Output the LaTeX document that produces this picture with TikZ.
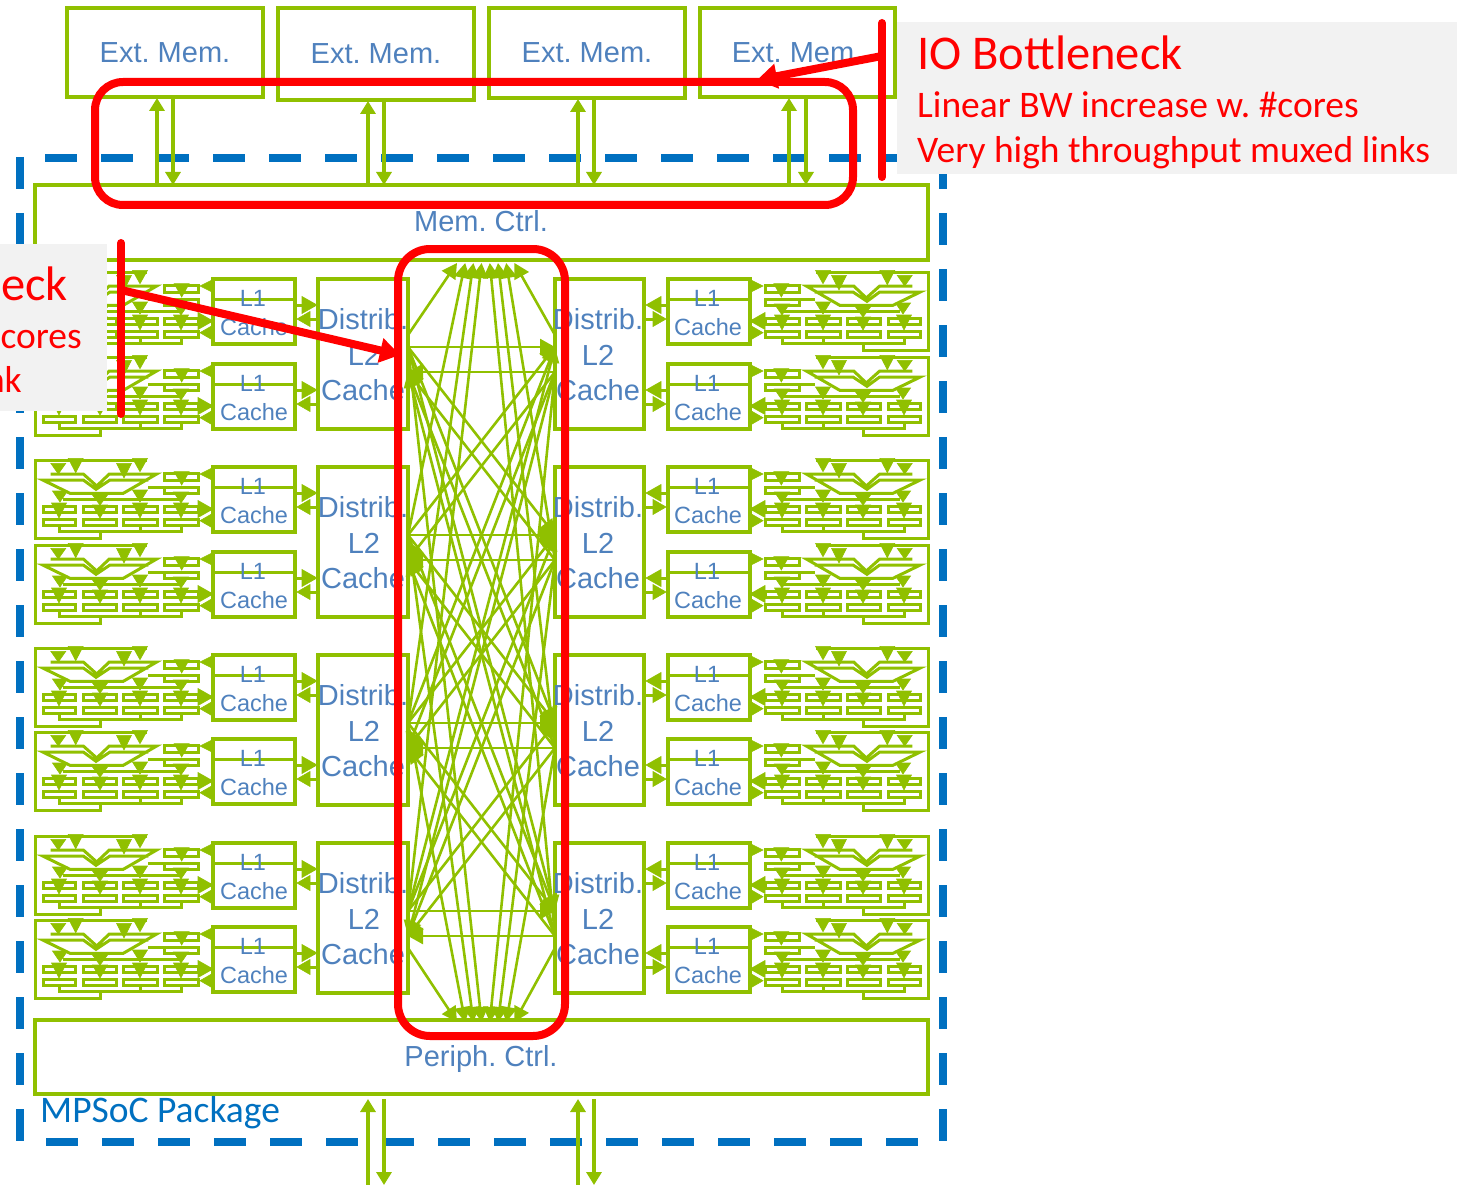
\documentclass[tikz,border=0pt]{standalone}
\usepackage{fontspec}
\setmainfont{Liberation Sans}
\newfontfamily\calib{Carlito}
\usetikzlibrary{arrows.meta}
\definecolor{grn}{HTML}{90C000}
\definecolor{txtb}{HTML}{4F81BD}
\definecolor{pkgb}{HTML}{0070C0}
\definecolor{gbox}{HTML}{F2F2F2}
\tikzset{
  x=1pt,y=-1pt,
  boxn/.style={draw=grn,line width=4pt,fill=none,inner sep=0pt,outer sep=0pt},
  wire/.style={draw=grn,line width=3pt},
  reg/.style={draw=grn,line width=3pt,fill=white},
  tri/.style={fill=grn,draw=grn,line width=.6pt},
  link/.style={draw=grn,line width=2.6pt,-{Triangle[length=15pt,width=16pt]}},
  bus/.style={draw=grn,line width=3.4pt,-{Triangle[length=13pt,width=15pt]}},
  redl/.style={draw=red,line width=8pt,line cap=round},
  pkgl/.style={draw=pkgb,line width=8pt,dash pattern=on 32pt off 24pt},
  lbl/.style={text=txtb,inner sep=0pt,anchor=base},
  big/.style={font=\fontsize{29}{29}\selectfont},
  small/.style={font=\fontsize{23.5}{24}\selectfont},
  calt/.style={text=red,inner sep=0pt,anchor=base west,font=\calib\fontsize{37.5}{38}\selectfont},
  calr/.style={text=red,inner sep=0pt,anchor=base east,font=\calib\fontsize{37.5}{38}\selectfont},
}
\newcommand{\tdn}[4]{\fill[tri] (#1-#4,#2) -- (#1+#4,#2) -- (#1,#3) -- cycle;}
\newcommand{\thz}[4]{\fill[tri] (#1,#3-#4) -- (#1,#3+#4) -- (#2,#3) -- cycle;}
\newcommand{\boxat}[5]{\node[boxn,minimum width={(#4-#2)*1pt},minimum height={(#5-#3)*1pt}] (#1) at ({(#2+#4)/2},{(#3+#5)/2}) {};}
\newcommand{\coretile}{%
  \draw[wire] (112,0) -- (0,0) -- (0,78) -- (65,78) -- (65,71);
  \draw[wire] (24,65) -- (24,71) -- (146,71) -- (146,65);
  \draw[wire] (105,65) -- (105,71);
  \draw[wire] (28,39) -- (145,39);
  \draw[wire] (113,27) -- (129,27);
  \foreach \xa/\xb in {8/40,48/81,88/122,129/163}{
    \draw[reg] (\xa,46) rectangle (\xb,52.5);
    \draw[reg] (\xa,59) rectangle (\xb,65.5);
  }
  \draw[reg] (129,13.5) rectangle (163,20);
  \draw[reg] (129,27.5) rectangle (163,33.5);
  \draw[wire,line join=miter] (15.7,14) -- (48.3,14) -- (61.7,26) -- (74.3,14) -- (121.7,14) -- (88.3,33.3) -- (35,33.3) -- (7.7,20) -- (48.3,20) -- (61,29.3) -- (75,20) -- (113.3,20);
  \tdn{23.3}{3.3}{14}{7.5}
  \tdn{40.7}{-1.7}{12.7}{7.5}
  \tdn{89}{3.3}{18}{7.5}
  \tdn{105}{-1.7}{11.7}{7.5}
  \tdn{146.7}{11.7}{25}{7.5}
  \tdn{25}{31}{42}{7.5}
  \tdn{24}{43}{58}{7.5}
  \tdn{65}{35}{45}{7.5}
  \tdn{65}{45}{58}{7.5}
  \tdn{105}{30}{42}{7.5}
  \tdn{105}{43}{58}{7.5}
  \tdn{146}{32}{43}{7.5}
  \tdn{146}{43}{58}{7.5}
  \thz{178}{165}{14}{6.5}
  \thz{163}{178}{49}{8.5}
  \thz{178}{165}{60.7}{7.5}
  \draw[boxn] (178,7) rectangle (260,72);
  \draw[wire] (178,27) -- (260,27);
  \draw[wire] (260,33) -- (270,33);
  \draw[wire] (270,47) -- (283,47);
  \thz{267}{282}{33}{8.5}
  \thz{275}{262}{47}{7.5}
}
\begin{document}
\frenchspacing
\begin{tikzpicture}
\useasboundingbox (0,0) rectangle (1459,1185);
% package outline
\draw[pkgl] (45,158) -- (897,158);
\draw[pkgl] (46,1141.5) -- (920,1141.5);
\draw[pkgl] (20,157) -- (20,1143);
\draw[pkgl] (942.5,157) -- (942.5,1143);
% external memories and controllers
\boxat{Ext1}{67}{8}{263}{97}
\boxat{Ext2}{278}{8}{474}{100}
\boxat{Ext3}{489}{8}{685}{98}
\boxat{Ext4}{700}{8}{895}{97}
\boxat{Mem}{35}{185}{928}{260}
\boxat{Per}{35}{1020}{928}{1094}
\node[lbl,big] (e1t) at (165,63) {Ext. Mem.};
\node[lbl,big] (e2t) at (376,64) {Ext. Mem.};
\node[lbl,big] (e3t) at (587,63) {Ext. Mem.};
\node[lbl,big] (e4t) at (797,63) {Ext. Mem.};
\node[lbl,big] (mt) at (481,232) {Mem. Ctrl.};
\node[lbl,big] (pt) at (481,1066) {Periph. Ctrl.};
\node[text=pkgb,inner sep=0pt,anchor=base west,font=\calib\fontsize{37.5}{38}\selectfont] (pkgt) at (40,1122) {MPSoC Package};
\foreach \n/\xu/\xd/\yt in {1/157/173/98,2/368/384/101,3/578/594/99,4/789/806/98}{
  \coordinate (mu\n) at (\xu,\yt);
  \coordinate (md\n) at (\xd,\yt);
  \draw[bus] (mu\n |- Mem.north) -- (mu\n);
  \draw[bus] (md\n) -- (md\n |- Mem.north);
}
\foreach \n/\xu/\xd in {1/368/384,2/578/594}{
  \coordinate (pu\n) at (\xu,1099);
  \coordinate (pd\n) at (\xd,1099);
  \coordinate (pe\n) at (\xu,1185);
  \draw[bus] (pe\n) -- (pu\n);
  \draw[bus] (pd\n) -- (pd\n |- pe\n);
}
% core tiles
\foreach \yy in {272,357,460,545,648,732,836,920}{
  \begin{scope}[shift={(35,\yy)}]\coretile\end{scope}
  \begin{scope}[shift={(928,\yy)},xscale=-1]\coretile\end{scope}
  \pgfmathsetmacro{\ya}{\yy+34}
  \pgfmathsetmacro{\yb}{\yy+63}
  \node[lbl,small] at (253,\ya) {L1};
  \node[lbl,small] at (254,\yb) {Cache};
  \node[lbl,small] at (707,\ya) {L1};
  \node[lbl,small] at (708,\yb) {Cache};
}
% L2 slices
\foreach \i/\yt in {0/279,1/467,2/655,3/843}{
  \pgfmathsetmacro{\ybt}{\yt+150}
  \boxat{LL\i}{318}{\yt}{408}{\ybt}
  \boxat{RL\i}{555}{\yt}{644}{\ybt}
  \pgfmathsetmacro{\ya}{\yt+50}
  \pgfmathsetmacro{\yb}{\yt+86}
  \pgfmathsetmacro{\yc}{\yt+121}
  \node[lbl,big] at (363,\ya) {Distrib.};
  \node[lbl,big] at (364,\yb) {L2};
  \node[lbl,big] at (363,\yc) {Cache};
  \node[lbl,big] at (598,\ya) {Distrib.};
  \node[lbl,big] at (598,\yb) {L2};
  \node[lbl,big] at (598,\yc) {Cache};
  \pgfmathsetmacro{\yo}{347+188*\i}
  \pgfmathsetmacro{\yn}{372+188*\i}
  \coordinate (LO\i) at (408,\yo);
  \coordinate (LI\i) at (408,\yn);
  \coordinate (RI\i) at (555,\yo);
  \coordinate (RO\i) at (555,\yn);
}
% fabric end points
\foreach \k in {0,...,7}{
  \pgfmathsetmacro{\xk}{457+8.2*\k}
  \coordinate (TT\k) at (\xk,263);
  \coordinate (BT\k) at (\xk,1022);
}
\coordinate (LOT) at (408,335);
\coordinate (ROT) at (555,335);
\coordinate (LOB) at (408,948);
\coordinate (ROB) at (555,948);
% fabric
\foreach \i in {0,1,2,3}{
  \foreach \j in {0,1,2,3}{
    \draw[link] (LO\i) -- (RI\j);
    \draw[link] (RO\i) -- (LI\j);
  }
}
\draw[link] (LOT) -- (TT0);
\draw[link] (LO1) -- (TT1);
\draw[link] (LO2) -- (TT2);
\draw[link] (LO3) -- (TT3);
\draw[link] (RO3) -- (TT4);
\draw[link] (RO2) -- (TT5);
\draw[link] (RO1) -- (TT6);
\draw[link] (ROT) -- (TT7);
\draw[link] (LOB) -- (BT0);
\draw[link] (LO2) -- (BT1);
\draw[link] (LO1) -- (BT2);
\draw[link] (LO0) -- (BT3);
\draw[link] (RO0) -- (BT4);
\draw[link] (RO1) -- (BT5);
\draw[link] (RO2) -- (BT6);
\draw[link] (ROB) -- (BT7);
% call-outs
\fill[gbox] (897,22) rectangle (1457,174);
\fill[gbox] (0,244) rectangle (107,411);
\node[text=red,inner sep=0pt,anchor=base west,font=\calib\fontsize{48.5}{49}\selectfont] (io1) at (917,70) {IO Bottleneck};
\node[calt] (io2) at (917,118) {Linear BW increase w. \#cores};
\node[calt] (io3) at (917,163) {Very high throughput muxed links};
\begin{scope}
  \clip (0,244) rectangle (107,411);
  \node[text=red,inner sep=0pt,anchor=base east,font=\calib\fontsize{48.5}{49}\selectfont] (no1) at (68,300) {eck};
  \node[calr] (no2) at (82,348) {cores};
  \node[calr] (no3) at (22,392) {nk};
\end{scope}
\draw[redl,rounded corners=28pt] (95,82) rectangle (853,205);
\draw[redl,rounded corners=32pt] (398,249) rectangle (565,1036);
\coordinate (b1a) at (882,23);
\coordinate (b1b) at (882,177);
\coordinate (b1m) at (882,56);
\coordinate (b1t) at (757,80);
\draw[redl] (b1a) -- (b1b);
\draw[redl,line cap=butt,-{Triangle[length=20pt,width=24pt]}] (b1m) -- (b1t);
\coordinate (b2a) at (121,243);
\coordinate (b2b) at (121,414);
\coordinate (b2m) at (121,290);
\coordinate (b2t) at (400,355);
\draw[redl] (b2a) -- (b2b);
\draw[redl,line cap=butt,-{Triangle[length=20pt,width=24pt]}] (b2m) -- (b2t);
\end{tikzpicture}
\end{document}
